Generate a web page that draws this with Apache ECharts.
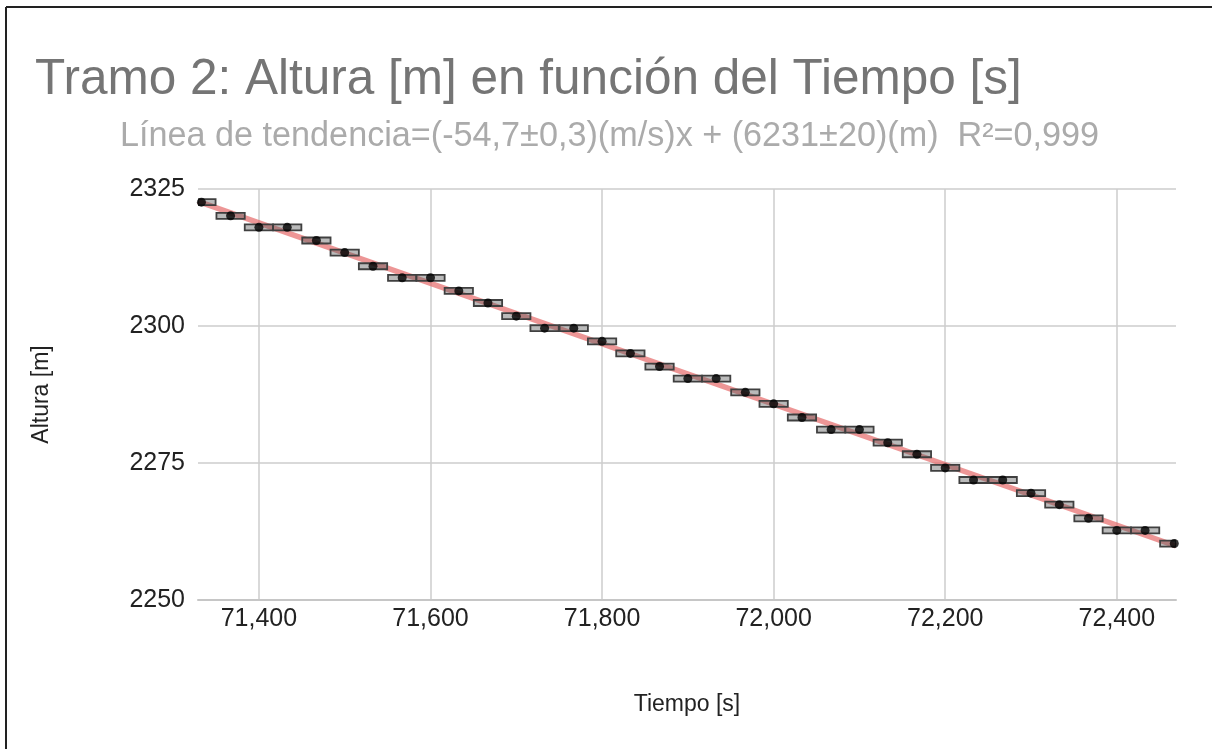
<!DOCTYPE html>
<html>
<head>
<meta charset="utf-8">
<script src="https://cdn.jsdelivr.net/npm/echarts@6/dist/echarts.min.js"></script>
<style>
html,body{margin:0;padding:0;background:#fff;}
#chart{width:1212px;height:749px;}
</style>
</head>
<body>
<div id="chart"></div>
<script>
// ---- data ----
var times = [71333, 71367, 71400, 71433, 71467, 71500, 71533, 71567, 71600, 71633, 71667, 71700,
             71733, 71767, 71800, 71833, 71867, 71900, 71933, 71967, 72000, 72033, 72067, 72100,
             72133, 72167, 72200, 72233, 72267, 72300, 72333, 72367, 72400, 72433, 72467];
var heights = [2322.6, 2320.1, 2318.0, 2318.0, 2315.6, 2313.4, 2310.9, 2308.8, 2308.8, 2306.4, 2304.2, 2301.8,
               2299.6, 2299.6, 2297.2, 2295.0, 2292.6, 2290.4, 2290.4, 2287.9, 2285.8, 2283.3, 2281.1, 2281.1,
               2278.7, 2276.6, 2274.1, 2271.9, 2271.9, 2269.5, 2267.4, 2264.9, 2262.7, 2262.7, 2260.3];
var timeError = 16.5;
var xTicks = [71400, 71600, 71800, 72000, 72200, 72400];
var yTicks = [2250, 2275, 2300, 2325];
var xMin = 71329, xMax = 72469;
var titleText = 'Tramo 2: Altura [m] en función del Tiempo [s]';
var subtitleText = 'Línea de tendencia=(-54,7±0,3)(m/s)x + (6231±20)(m)  R²=0,999';
var xName = 'Tiempo [s]';
var yName = 'Altura [m]';

// least squares trend line from the data
var n = times.length, sx = 0, sy = 0, sxx = 0, sxy = 0;
for (var i = 0; i < n; i++) { sx += times[i]; sy += heights[i]; sxx += times[i]*times[i]; sxy += times[i]*heights[i]; }
var slope = (n*sxy - sx*sy) / (n*sxx - sx*sx);
var icpt = (sy - slope*sx) / n;
var trend = [[xMin, icpt + slope*xMin], [xMax, icpt + slope*xMax]];

var points = times.map(function (t, i) { return [t, heights[i]]; });

var FONT = 'Liberation Sans, Arial, sans-serif';
var chart = echarts.init(document.getElementById('chart'), null, {renderer: 'canvas'});
chart.setOption({
  backgroundColor: '#ffffff',
  animation: false,
  title: [
    {text: titleText, left: 30, top: 50, textStyle: {fontFamily: FONT, fontSize: 49.5, fontWeight: 'normal', color: '#757575'}},
    {text: subtitleText, left: 115, top: 115, textStyle: {fontFamily: FONT, fontSize: 34.2, fontWeight: 'normal', color: '#ababab'}}
  ],
  graphic: [
    {type: 'line', shape: {x1: 6, y1: 7, x2: 1212, y2: 7}, style: {stroke: '#222', lineWidth: 2}},
    {type: 'line', shape: {x1: 6, y1: 7, x2: 6, y2: 749}, style: {stroke: '#222', lineWidth: 2}}
  ],
  grid: {left: 198, right: 36, top: 189, bottom: 149, containLabel: false},
  xAxis: {
    type: 'value', min: xMin, max: xMax,
    name: xName, nameLocation: 'middle', nameGap: 93,
    nameTextStyle: {fontFamily: FONT, fontSize: 23, color: '#222'},
    axisLine: {show: true, lineStyle: {color: '#c6c6c6', width: 2}},
    axisTick: {show: false, customValues: xTicks},
    axisLabel: {customValues: xTicks, fontFamily: FONT, fontSize: 25, color: '#222', margin: 7,
      formatter: function (v) { return Math.round(v).toLocaleString('en-US'); }},
    splitLine: {show: true, lineStyle: {color: '#cccccc', width: 1.5}}
  },
  yAxis: {
    type: 'value', min: yTicks[0], max: yTicks[yTicks.length-1], interval: 25,
    name: yName, nameLocation: 'middle', nameGap: 145, nameRotate: 90,
    nameTextStyle: {fontFamily: FONT, fontSize: 23, color: '#222'},
    axisLine: {show: false},
    axisTick: {show: false},
    axisLabel: {fontFamily: FONT, fontSize: 25, color: '#222', margin: 13,
      formatter: function (v) { return String(v); }},
    splitLine: {show: true, lineStyle: {color: '#cccccc', width: 1.5}}
  },
  series: [
    {
      type: 'line', data: trend, symbol: 'none', z: 2,
      lineStyle: {color: 'rgba(228,100,100,0.68)', width: 5.5}
    },
    {
      type: 'custom', z: 3, clip: true,
      data: points,
      renderItem: function (params, api) {
        var t = api.value(0), h = api.value(1);
        var p1 = api.coord([t - timeError, h]);
        var p2 = api.coord([t + timeError, h]);
        var rect = echarts.graphic.clipRectByRect(
          {x: p1[0], y: p1[1] - 3, width: p2[0] - p1[0], height: 6},
          {x: params.coordSys.x, y: params.coordSys.y, width: params.coordSys.width, height: params.coordSys.height});
        if (!rect) return;
        return {type: 'rect', shape: rect, style: {fill: 'rgba(90,90,90,0.42)', stroke: '#404040', lineWidth: 1.8}};
      }
    },
    {
      type: 'scatter', data: points, symbol: 'circle', symbolSize: 9, z: 4,
      itemStyle: {color: '#000'}
    }
  ]
});
</script>
</body>
</html>
